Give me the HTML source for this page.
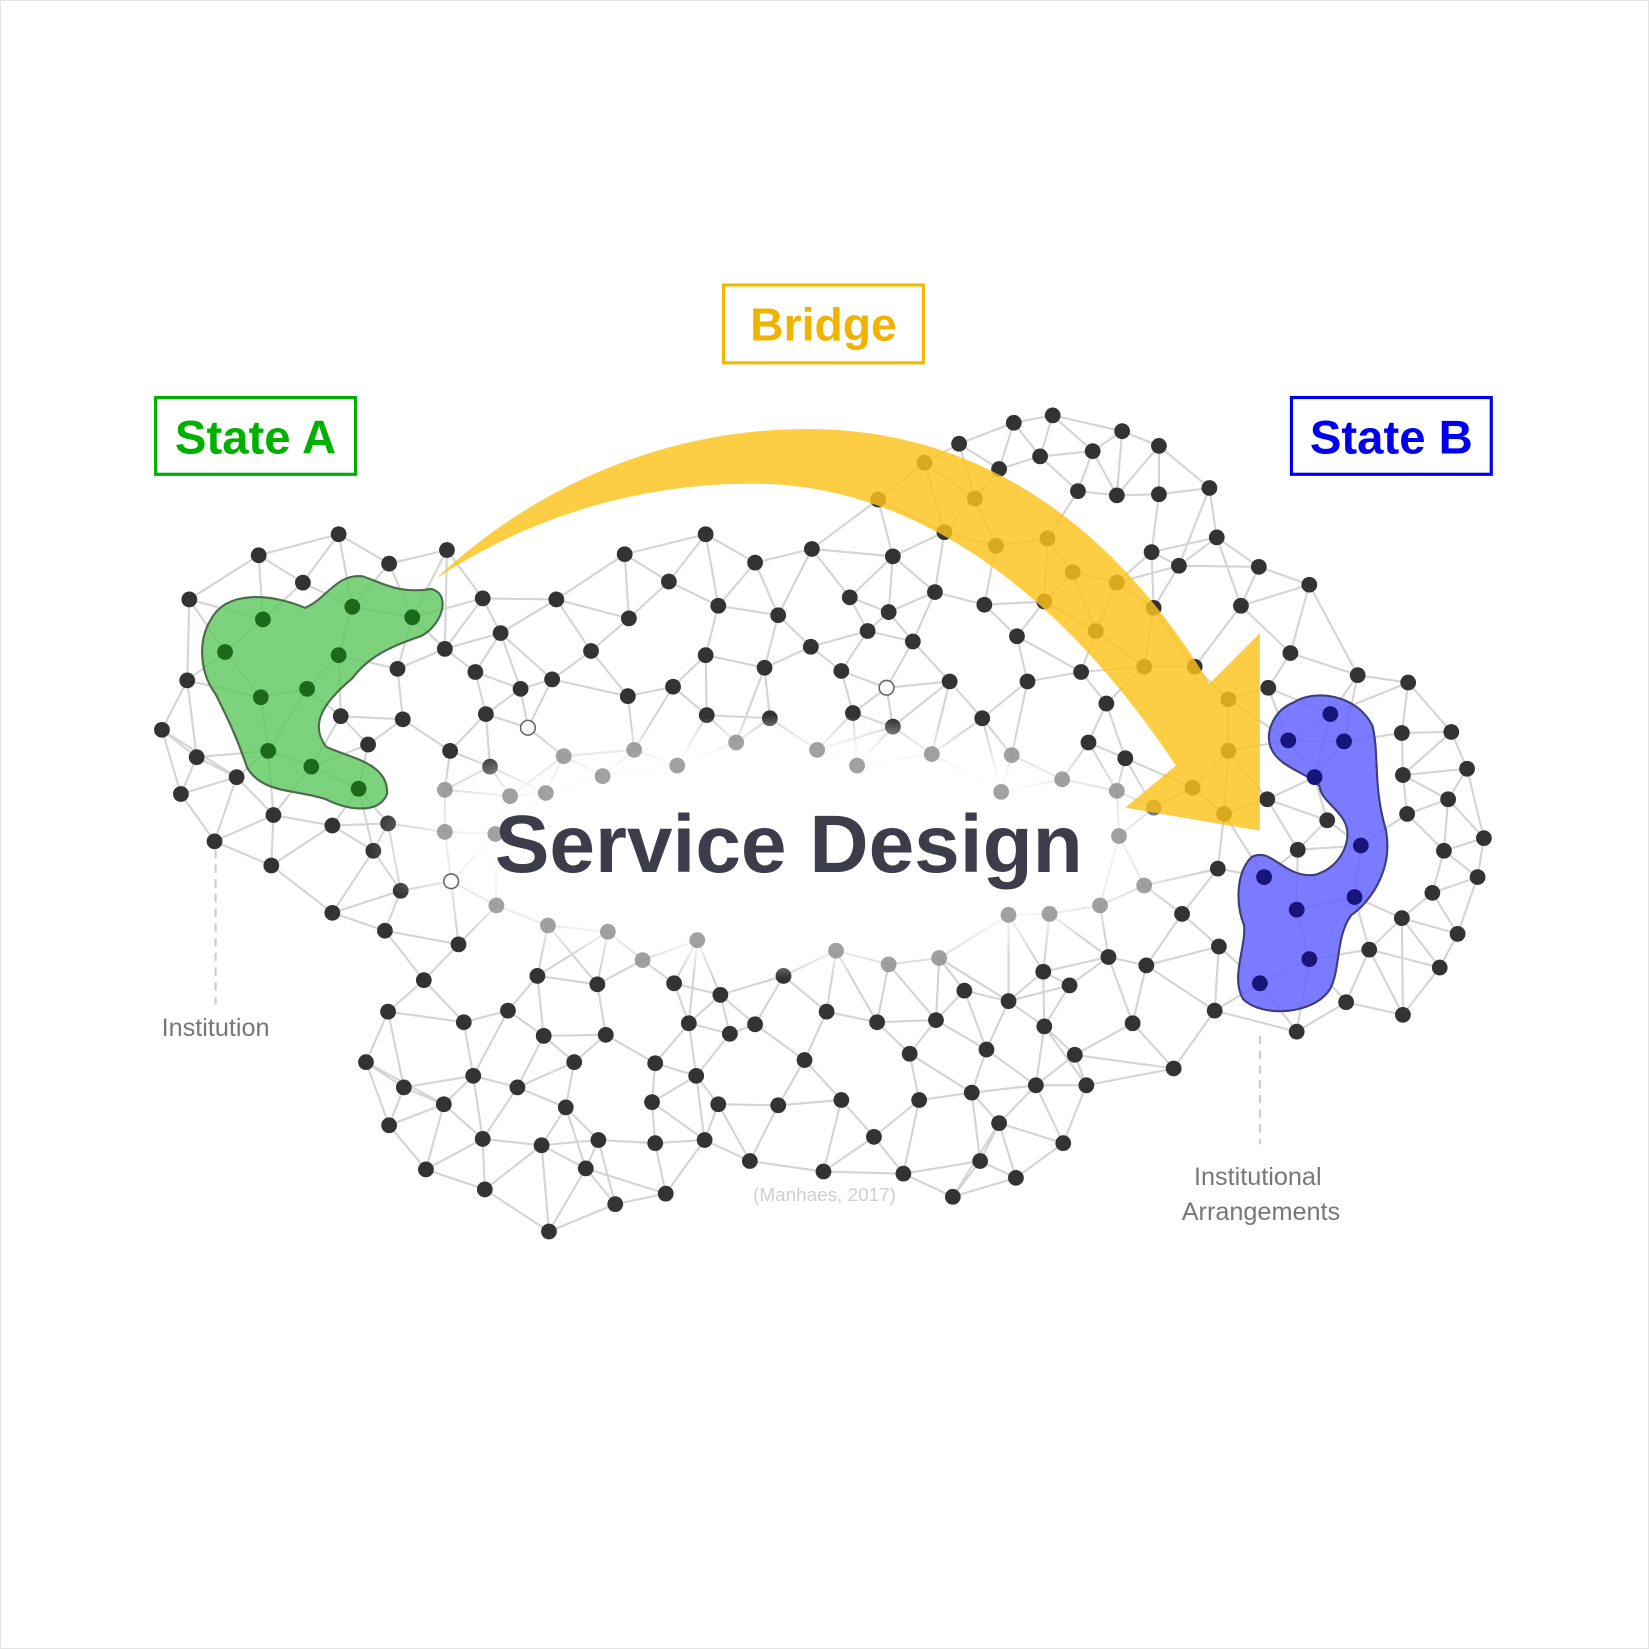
<!DOCTYPE html>
<html><head><meta charset="utf-8"><style>
html,body{margin:0;padding:0;background:#fff}
svg{display:block}
</style></head><body>
<svg id="s" width="1649" height="1649" viewBox="0 0 1568 1568" xmlns="http://www.w3.org/2000/svg" font-family="Liberation Sans, sans-serif">
<defs>
<radialGradient id="glow" cx="0.5" cy="0.5" r="0.5">
<stop offset="0" stop-color="#fff" stop-opacity="1"/>
<stop offset="0.7" stop-color="#fff" stop-opacity="0.95"/>
<stop offset="1" stop-color="#fff" stop-opacity="0"/>
</radialGradient>
</defs>
<rect x="0.5" y="0.5" width="1567" height="1567" fill="#fff" stroke="#e4e4e4"/>
<g id="edges" stroke="#d4d4d4" stroke-width="2"></g>
<g id="nodes"></g>
<ellipse cx="750" cy="805" rx="400" ry="125" fill="url(#glow)"/>
<g id="gray"></g>
<path d="M200,590 C215,560 260,565 290,578 C310,570 320,545 345,548 C365,555 380,565 410,560 C430,565 420,595 400,605 C370,615 350,625 335,645 C305,670 295,690 310,710 C330,720 370,725 368,755 C360,775 330,770 310,760 C280,750 250,755 235,730 C225,700 215,680 205,660 C190,640 188,610 200,590 Z" fill="#5cc85c" fill-opacity="0.8" stroke="#4a6a4a" stroke-width="2"/>
<path d="M1230,668 C1250,655 1290,660 1305,690 C1312,720 1305,745 1318,790 C1325,830 1300,860 1285,870 C1270,890 1275,920 1265,940 C1250,965 1200,968 1182,950 C1170,930 1185,900 1183,880 C1175,860 1175,830 1190,815 C1210,805 1220,835 1250,832 C1275,825 1285,800 1280,785 C1275,770 1255,760 1255,748 C1245,735 1215,730 1208,710 C1203,695 1212,675 1230,668 Z" fill="#6464ff" fill-opacity="0.85" stroke="#3d3d7a" stroke-width="2"/>
<g id="inner"></g>
<path d="M415,550 C500,470 620,410 760,408 C930,405 1060,500 1150,650 L1198,602 L1198,790 L1070,768 L1118,728 C1020,580 880,455 705,460 C590,462 490,500 415,550 Z" fill="#fcc21b" fill-opacity="0.82"/>
<text x="750" y="829" text-anchor="middle" font-size="78" font-weight="bold" fill="#3d3c4a">Service Design</text>
<rect x="688" y="271" width="190" height="74" fill="none" stroke="#f5b800" stroke-width="3"/>
<text x="783" y="324" text-anchor="middle" font-size="44" font-weight="bold" fill="#f0b400">Bridge</text>
<rect x="148" y="378" width="190" height="73" fill="none" stroke="#00b000" stroke-width="3"/>
<text x="243" y="431" text-anchor="middle" font-size="45" font-weight="bold" fill="#00b000">State A</text>
<rect x="1228" y="378" width="190" height="73" fill="none" stroke="#0000ee" stroke-width="3"/>
<text x="1323" y="431" text-anchor="middle" font-size="45" font-weight="bold" fill="#0000ee">State B</text>
<line x1="205" y1="808" x2="205" y2="955" stroke="#ccc" stroke-width="2" stroke-dasharray="8,6"/>
<text x="205" y="985" text-anchor="middle" font-size="24" fill="#777">Institution</text>
<line x1="1198" y1="985" x2="1198" y2="1088" stroke="#ccc" stroke-width="2" stroke-dasharray="8,6"/>
<text x="1196" y="1127" text-anchor="middle" font-size="24" fill="#777">Institutional</text>
<text x="1199" y="1160" text-anchor="middle" font-size="24" fill="#777">Arrangements</text>
<text x="784" y="1142" text-anchor="middle" font-size="18" fill="#cfcfcf">(Manhaes, 2017)</text>
</svg>
<script>
var dark=[[322,508],[246,528],[370,536],[425,523],[288,554],[180,570],[459,569],[476,602],[378,636],[178,647],[423,617],[452,639],[495,655],[154,694],[324,681],[383,684],[462,679],[187,720],[350,708],[428,714],[225,739],[172,755],[260,775],[316,785],[369,783],[204,800],[258,823],[355,809],[381,847],[316,868],[466,729],
[671,508],[594,527],[772,522],[718,535],[636,553],[529,570],[598,588],[683,576],[740,585],[808,568],[562,619],[671,623],[727,635],[525,646],[597,662],[640,653],[672,680],[732,683],[811,678],[771,615],[800,638],[825,600],[845,582],[849,529],[868,610],[849,691],
[912,422],[964,402],[1001,395],[950,446],[989,434],[1039,429],[1067,410],[1102,424],[835,475],[879,440],[927,474],[1025,467],[1062,471],[1102,470],[1150,464],[898,506],[947,519],[996,512],[1020,544],[1062,554],[1095,525],[1121,538],[1157,511],[889,563],[936,575],[993,572],[1042,600],[1097,578],[1180,576],[1197,539],[1245,556],[967,605],[1028,639],[977,648],[903,648],[1088,634],[1136,634],[1168,665],[1052,669],[934,683],[1035,706],[1070,721],[1168,714],[1134,749],[1097,768],[1164,774],[1227,621],[1206,654],[1291,642],[1339,649],
[1333,697],[1380,696],[1334,737],[1395,731],[1205,760],[1262,780],[1338,774],[1377,760],[1234,808],[1373,809],[1411,797],[1158,826],[1362,849],[1405,834],[1333,873],[1386,888],[1124,869],[1159,900],[1302,903],[1369,920],[1280,953],[1334,965],[1233,981],[1155,961],[1116,1016],[1077,973],[1090,918],[1054,910],[1017,937],
[366,885],[436,898],[403,932],[511,928],[568,936],[369,962],[441,972],[483,961],[517,985],[576,984],[348,1010],[384,1034],[450,1023],[492,1034],[546,1010],[623,1011],[655,973],[685,946],[641,935],[694,983],[718,974],[745,928],[786,962],[834,972],[890,970],[917,942],[959,952],[992,924],[993,976],[938,998],[865,1002],[765,1008],[662,1023],[370,1070],[422,1050],[538,1053],[569,1084],[620,1048],[683,1050],[740,1051],[800,1046],[874,1046],[924,1039],[985,1032],[1033,1032],[1022,1003],[405,1112],[459,1083],[515,1089],[557,1111],[623,1087],[670,1084],[713,1104],[783,1114],[831,1081],[859,1116],[950,1068],[1011,1087],[932,1104],[966,1120],[906,1138],[461,1131],[585,1145],[633,1135],[522,1171]];
var green=[[250,589],[335,577],[392,587],[214,620],[322,623],[292,655],[248,663],[255,714],[296,729],[341,750]];
var blue=[[1265,679],[1225,704],[1278,705],[1250,739],[1294,804],[1202,834],[1233,865],[1288,853],[1245,912],[1198,935]];
var gray=[[536,719],[603,713],[573,738],[644,728],[700,706],[777,713],[815,728],[519,754],[485,757],[423,751],[423,791],[471,793],[472,861],[521,880],[578,886],[663,894],[611,913],[795,904],[845,917],[893,911],[886,717],[962,718],[1010,741],[1062,752],[1064,795],[1046,861],[998,869],[959,870],[952,753],[1088,842]];
var hollow=[[502,692],[429,838],[843,654]];
var all=dark.concat(green,blue,gray,hollow);
var NS="http://www.w3.org/2000/svg";
function el(p,t,a){var e=document.createElementNS(NS,t);for(var k in a)e.setAttribute(k,a[k]);document.getElementById(p).appendChild(e);}
var seen={};
for(var i=0;i<all.length;i++){
 var d=[];
 for(var j=0;j<all.length;j++){if(i==j)continue;var dx=all[i][0]-all[j][0],dy=all[i][1]-all[j][1];d.push([dx*dx+dy*dy,j]);}
 d.sort(function(a,b){return a[0]-b[0]});
 for(var k=0;k<4;k++){var j=d[k][1];if(d[k][0]>115*115)continue;var key=Math.min(i,j)+"_"+Math.max(i,j);if(seen[key])continue;seen[key]=1;
  el("edges","line",{x1:all[i][0],y1:all[i][1],x2:all[j][0],y2:all[j][1]});}
}
dark.forEach(function(p){el("nodes","circle",{cx:p[0],cy:p[1],r:7.5,fill:"#333"});});
gray.forEach(function(p){el("gray","circle",{cx:p[0],cy:p[1],r:7.5,fill:"#8a8a8a","fill-opacity":0.8});});
hollow.forEach(function(p){el("gray","circle",{cx:p[0],cy:p[1],r:7,fill:"#fff",stroke:"#666","stroke-width":1.5});});
green.forEach(function(p){el("inner","circle",{cx:p[0],cy:p[1],r:7.5,fill:"#1b6a1b"});});
blue.forEach(function(p){el("inner","circle",{cx:p[0],cy:p[1],r:7.5,fill:"#15157a"});});
</script>
</body></html>
